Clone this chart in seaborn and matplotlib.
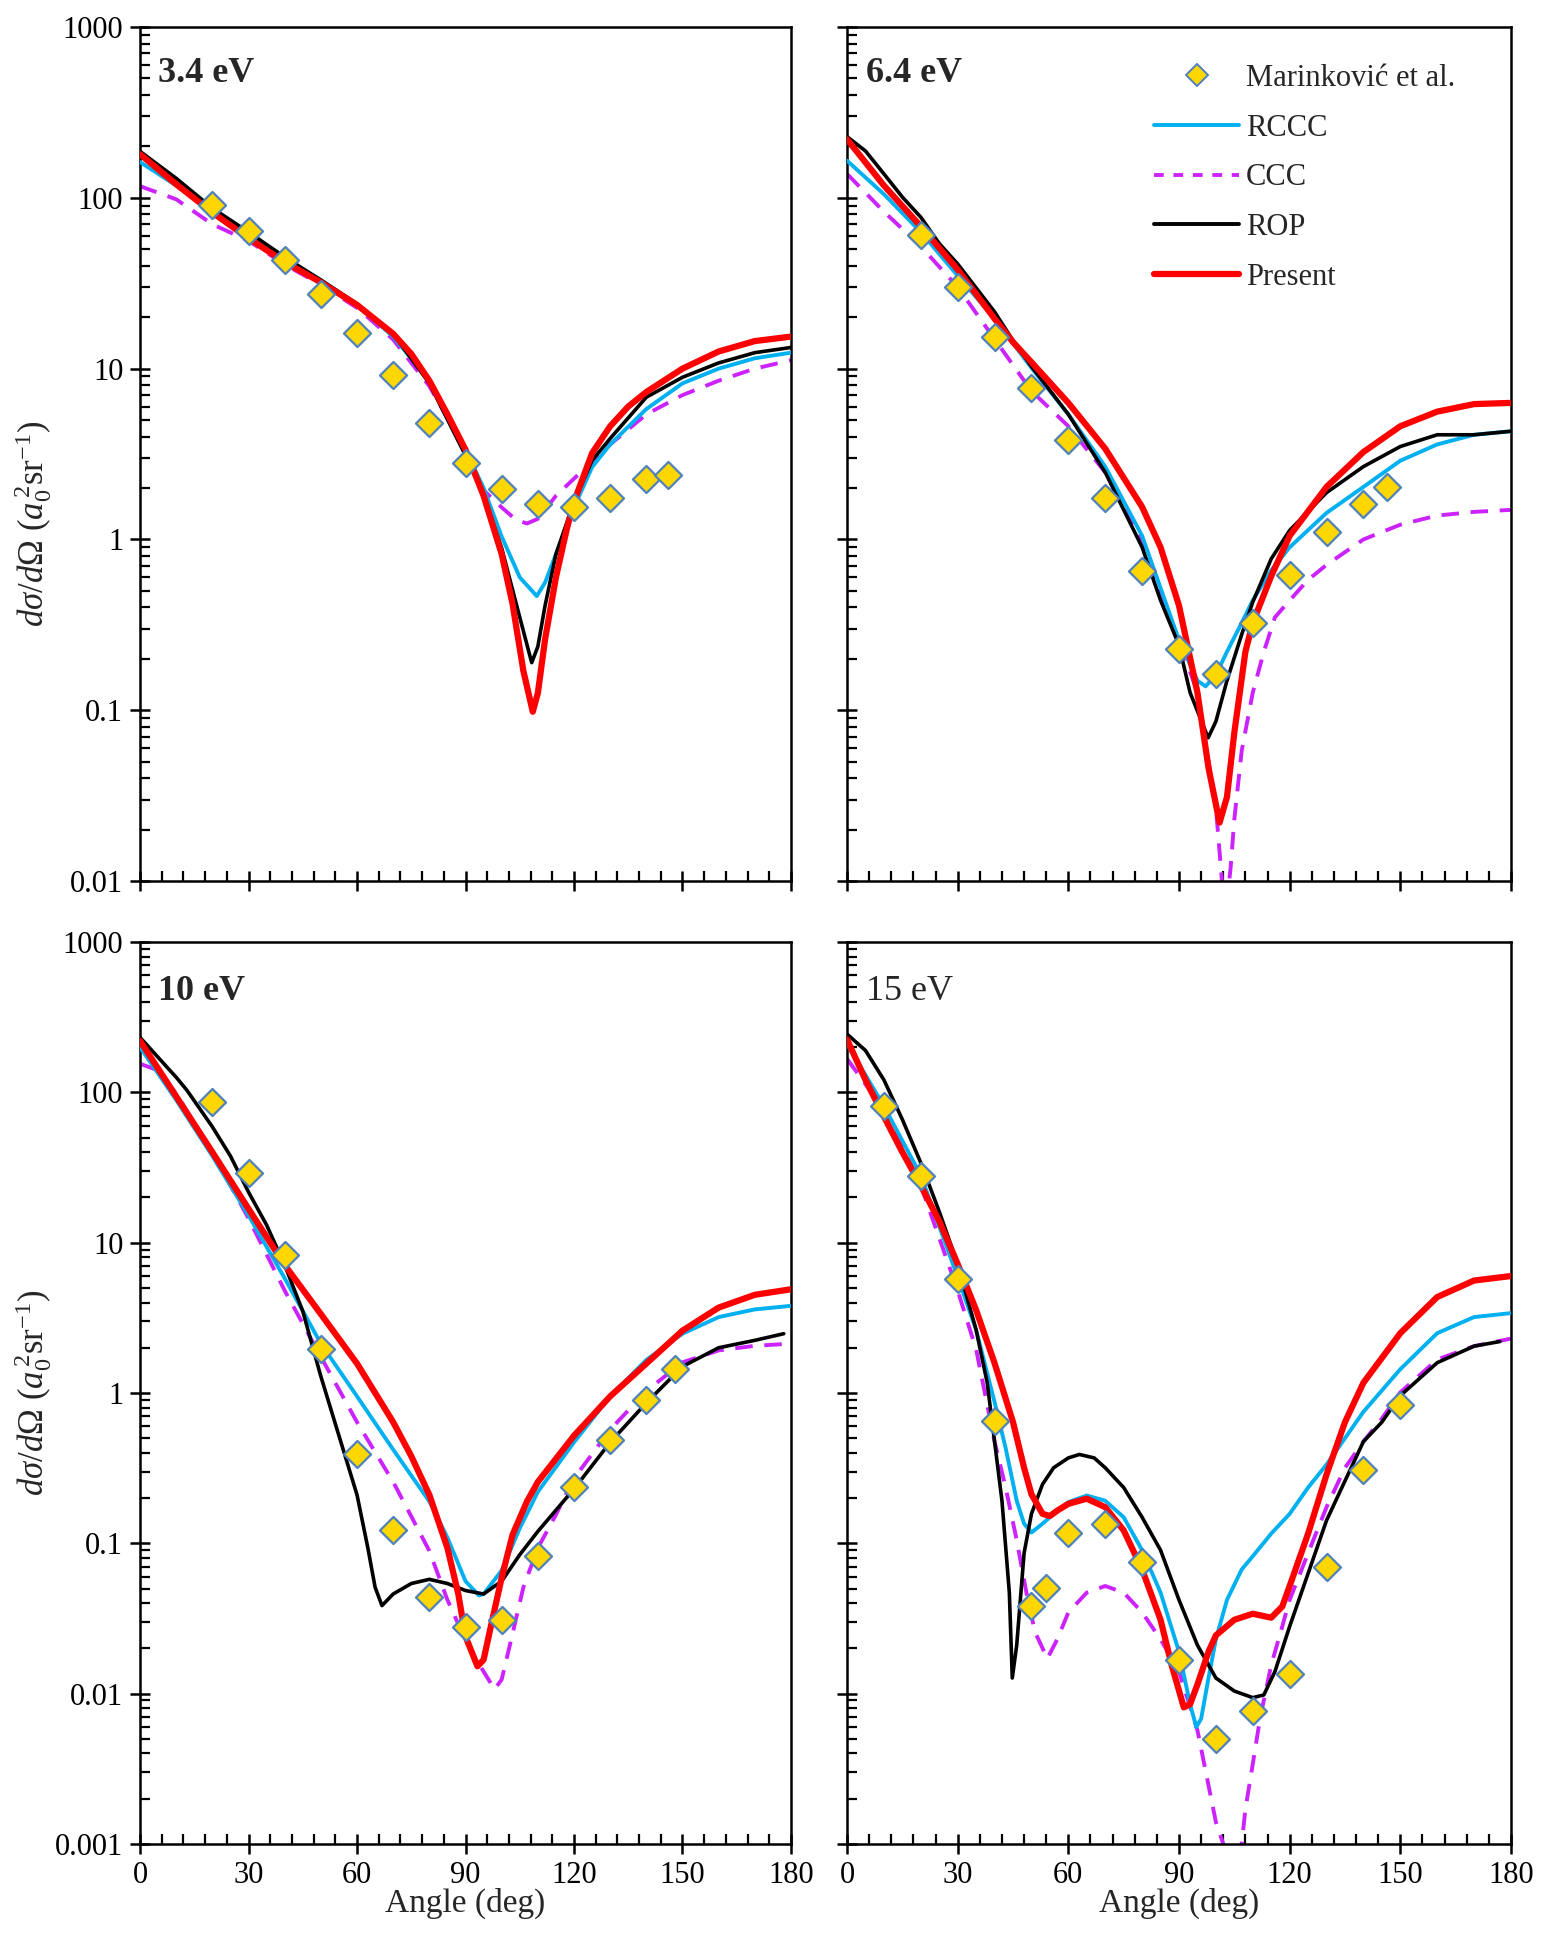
import matplotlib
matplotlib.use("Agg")
import matplotlib.pyplot as plt
import seaborn as sns
from matplotlib.lines import Line2D
from matplotlib.ticker import LogLocator, MultipleLocator, FixedLocator, FixedFormatter

# ---------------- data: 3.4 eV ----------------
ang_34_present = [0, 10, 20, 30, 40, 50, 60, 70, 75, 80, 85, 90, 95, 100, 103, 106, 108.6, 110, 112, 115,
                  118, 120, 125, 130, 135, 140, 150, 160, 170, 180]
dcs_34_present = [180, 120, 82, 58, 42, 32, 23.6, 16, 12.2, 8.5, 5.4, 3.35, 1.8, 0.82, 0.42, 0.17, 0.098, 0.126,
                  0.26, 0.6, 1.15, 1.66, 3.2, 4.6, 6.0, 7.3, 10, 12.6, 14.5, 15.4]
ang_34_rop = [0, 10, 20, 30, 40, 50, 60, 70, 80, 90, 95, 100, 105, 108.3, 110, 112, 115, 120, 125, 130,
              140, 150, 160, 170, 180]
dcs_34_rop = [187, 130, 87, 63, 45, 33, 24, 16, 8.2, 3.1, 1.8, 0.89, 0.35, 0.19, 0.236, 0.41, 0.82, 1.66,
              2.9, 3.9, 6.8, 8.9, 10.8, 12.4, 13.3]
ang_34_rccc = [0, 10, 20, 30, 40, 50, 60, 70, 80, 90, 95, 100, 105, 109.7, 112, 115, 120, 125, 130, 140,
               150, 160, 170, 180]
dcs_34_rccc = [162, 118, 85, 60, 44, 33, 23.6, 15.4, 8.5, 3.35, 2.0, 1.04, 0.6, 0.466, 0.56, 0.82, 1.54,
               2.65, 3.6, 5.8, 8.2, 10, 11.5, 12.4]
ang_34_ccc = [0, 10, 20, 30, 40, 50, 60, 70, 80, 90, 95, 100, 104, 107, 110, 115, 120, 130, 140, 150,
              160, 170, 180]
dcs_34_ccc = [117, 98, 70, 56, 40.7, 31, 22.7, 14.8, 7.9, 3.35, 1.94, 1.54, 1.3, 1.24, 1.32, 1.8, 2.27,
              3.6, 5.4, 7.0, 8.5, 10, 11.2]
ang_34_exp = [20, 30, 40, 50, 60, 70, 80, 90, 100, 110, 120, 130, 140, 146]
dcs_34_exp = [91, 63.6, 43.4, 27.2, 16.2, 9.18, 4.8, 2.82, 1.97, 1.62, 1.54, 1.75, 2.25, 2.38]

# ---------------- data: 6.4 eV ----------------
ang_64_present = [0, 10, 20, 30, 40, 45, 50, 60, 70, 80, 85, 90, 95, 98, 101, 103, 105, 108, 110, 115, 120,
                  130, 140, 150, 160, 170, 180]
dcs_64_present = [220, 118, 68, 38, 19.6, 14.3, 10.9, 6.3, 3.4, 1.55, 0.9, 0.41, 0.127, 0.046, 0.022, 0.031,
                  0.074, 0.22, 0.325, 0.61, 1.05, 2.03, 3.25, 4.6, 5.6, 6.2, 6.3]
ang_64_rop = [0, 5, 10, 15, 20, 25, 30, 40, 45, 50, 60, 70, 80, 85, 90, 93, 97.9, 100, 103, 107, 110, 115,
              120, 130, 140, 150, 160, 170, 180]
dcs_64_rop = [228, 188, 138, 101, 77, 54, 41, 21.5, 14.6, 10.3, 5.4, 2.47, 0.9, 0.44, 0.24, 0.127, 0.069,
              0.086, 0.149, 0.278, 0.43, 0.77, 1.13, 1.88, 2.67, 3.5, 4.1, 4.1, 4.3]
ang_64_rccc = [0, 10, 20, 30, 40, 50, 60, 70, 80, 85, 90, 95, 97.2, 100, 103, 107, 110, 115, 120, 130, 140,
               150, 160, 170, 180]
dcs_64_rccc = [165, 105, 63, 35, 19.6, 10.1, 5.4, 2.67, 1.05, 0.52, 0.257, 0.149, 0.138, 0.161, 0.22, 0.325,
               0.44, 0.66, 0.9, 1.43, 2.03, 2.89, 3.6, 4.1, 4.3]
ang_64_ccc = [0, 10, 20, 30, 40, 50, 60, 70, 80, 85, 90, 95, 100, 102.5, 104, 105, 107, 110, 113, 116, 120,
              125, 130, 140, 150, 160, 170, 180]
dcs_64_ccc = [138, 83, 52, 30, 14.9, 7.4, 4.6, 2.47, 0.97, 0.48, 0.257, 0.127, 0.027, 0.006, 0.012, 0.023,
              0.058, 0.127, 0.22, 0.35, 0.44, 0.58, 0.71, 1.0, 1.22, 1.38, 1.45, 1.49]
ang_64_exp = [20, 30, 40, 50, 60, 70, 80, 90, 100, 110, 120, 130, 140, 146.5]
dcs_64_exp = [60.7, 30, 15.3, 7.7, 3.8, 1.74, 0.656, 0.229, 0.164, 0.325, 0.62, 1.1, 1.61, 2.03]

# ---------------- data: 10 eV ----------------
ang_10_present = [0, 10, 20, 30, 40, 50, 60, 70, 75, 80, 85, 88, 90, 93.3, 95, 97, 100, 103, 107, 110, 120,
                  130, 140, 150, 160, 170, 180]
dcs_10_present = [220, 94, 40, 16.8, 7.1, 3.35, 1.57, 0.64, 0.38, 0.21, 0.093, 0.046, 0.024, 0.0152, 0.0168,
                  0.028, 0.059, 0.114, 0.19, 0.256, 0.52, 0.95, 1.57, 2.6, 3.7, 4.5, 4.9]
ang_10_rop = [0, 5, 10, 13, 20, 25, 30, 35, 40, 45, 48, 50, 55, 60, 63, 65, 66.9, 70, 75, 80, 85, 90, 95,
              100, 105, 110, 120, 130, 140, 150, 160, 170, 178]
dcs_10_rop = [232, 171, 126, 103, 59, 37.7, 21.7, 13.1, 7.1, 3.5, 1.92, 1.29, 0.52, 0.21, 0.093, 0.051,
              0.0385, 0.046, 0.054, 0.0576, 0.054, 0.0485, 0.046, 0.056, 0.084, 0.12, 0.23, 0.47, 0.86, 1.5,
              2.0, 2.24, 2.48]
ang_10_rccc = [0, 10, 20, 30, 40, 50, 60, 70, 80, 85, 90, 93.7, 95, 100, 105, 110, 120, 130, 140, 150, 160,
               170, 180]
dcs_10_rccc = [200, 89, 37.7, 15.2, 5.8, 2.13, 0.95, 0.42, 0.19, 0.109, 0.056, 0.045, 0.046, 0.066, 0.126,
               0.22, 0.47, 0.95, 1.66, 2.48, 3.2, 3.6, 3.8]
ang_10_ccc = [0, 5, 10, 20, 30, 40, 50, 60, 70, 80, 85, 90, 93, 98, 100, 103, 106, 110, 115, 120, 130, 140,
              150, 160, 170, 180]
dcs_10_ccc = [155, 140, 98, 40, 14.5, 4.8, 1.74, 0.64, 0.256, 0.089, 0.042, 0.0227, 0.0168, 0.0107, 0.0124,
              0.025, 0.051, 0.093, 0.155, 0.27, 0.57, 1.03, 1.6, 1.92, 2.06, 2.13]
ang_10_exp = [20, 30, 40, 50, 60, 70, 80, 90, 100, 110, 120, 130, 140, 148]
dcs_10_exp = [86, 29.3, 8.3, 1.96, 0.39, 0.123, 0.044, 0.0279, 0.031, 0.082, 0.236, 0.49, 0.9, 1.45]

# ---------------- data: 15 eV ----------------
ang_15_present = [0, 5, 10, 15, 20, 25, 30, 35, 40, 45, 48, 50, 53, 55, 57, 60, 65, 70, 75, 80, 85, 88, 91.3,
                  93, 95, 98, 100, 105, 110, 115, 118, 120, 125, 130, 135, 140, 150, 160, 170, 180]
dcs_15_present = [225, 121, 69, 40, 24, 13.9, 7.2, 3.56, 1.58, 0.64, 0.318, 0.212, 0.157, 0.152, 0.165, 0.183,
                  0.198, 0.174, 0.122, 0.067, 0.031, 0.0155, 0.0081, 0.0085, 0.0115, 0.019, 0.0244, 0.031,
                  0.034, 0.032, 0.038, 0.052, 0.116, 0.287, 0.64, 1.17, 2.5, 4.35, 5.6, 6.0]
ang_15_rop = [0, 5, 10, 15, 20, 25, 30, 35, 38, 40, 42, 44, 44.8, 46, 48, 50, 53, 56, 60, 63, 67, 70, 75,
              80, 85, 90, 95, 100, 105, 110, 113, 116, 120, 125, 130, 135, 140, 145, 150, 160, 170, 177]
dcs_15_rop = [244, 190, 121, 66, 34, 16.1, 7.2, 2.63, 1.17, 0.475, 0.192, 0.047, 0.0127, 0.021, 0.086, 0.157,
              0.247, 0.318, 0.37, 0.39, 0.37, 0.318, 0.235, 0.149, 0.09, 0.042, 0.021, 0.0127, 0.0104,
              0.0094, 0.0098, 0.014, 0.028, 0.063, 0.142, 0.26, 0.475, 0.64, 0.96, 1.59, 2.05, 2.2]
ang_15_rccc = [0, 10, 20, 30, 35, 40, 43, 46, 48, 50, 53, 57, 60, 65, 70, 75, 80, 85, 90, 93, 94.7, 96, 98,
               100, 103, 107, 110, 115, 120, 125, 130, 140, 150, 160, 170, 180]
dcs_15_rccc = [210, 81, 28, 5.9, 2.63, 0.87, 0.43, 0.192, 0.135, 0.118, 0.135, 0.165, 0.188, 0.208, 0.192,
               0.149, 0.09, 0.047, 0.019, 0.0085, 0.006, 0.0068, 0.0127, 0.023, 0.042, 0.067, 0.082, 0.116,
               0.157, 0.235, 0.334, 0.75, 1.44, 2.5, 3.2, 3.4]
ang_15_ccc = [0, 10, 20, 30, 35, 40, 43, 46, 49, 51, 54.3, 57, 60, 65, 70, 75, 80, 85, 90, 95, 100, 102, 104,
              106, 107, 108, 110, 112, 115, 118, 120, 125, 130, 135, 140, 145, 150, 160, 170, 180]
dcs_15_ccc = [167, 77, 24, 4.8, 1.95, 0.475, 0.235, 0.105, 0.042, 0.0256, 0.0171, 0.023, 0.0347, 0.047, 0.052,
              0.047, 0.0347, 0.023, 0.014, 0.0057, 0.0014, 0.001, 0.0005, 0.0006, 0.001, 0.0017, 0.0034,
              0.0069, 0.0155, 0.028, 0.042, 0.086, 0.174, 0.318, 0.475, 0.676, 1.01, 1.67, 2.05, 2.3]
ang_15_exp = [10, 20, 30, 40, 50, 54, 60, 70, 80, 90, 100, 110, 120, 130, 140, 150]
dcs_15_exp = [80.7, 27.8, 5.7, 0.656, 0.0384, 0.0503, 0.118, 0.135, 0.075, 0.0168, 0.00497, 0.00766, 0.0136,
              0.070, 0.308, 0.826]

energy_labels = ["3.4 eV", "6.4 eV", "10 eV", "15 eV"]

C_RCCC = "#00B0F0"
C_CCC = "#CC22FF"
C_ROP = "black"
C_PRES = "#FF0000"
C_FILL = "#FFD700"
C_EDGE = "#4F81BD"

sns.set_style("white")
plt.rcParams["font.family"] = ["Liberation Serif", "DejaVu Serif"]
plt.rcParams["mathtext.fontset"] = "custom"
plt.rcParams["mathtext.rm"] = "Liberation Serif"
plt.rcParams["mathtext.it"] = "Liberation Serif:italic"

fig = plt.figure(figsize=(15.44, 19.42), dpi=100)

rects = [
    [0.0907, 0.5463, 0.4216, 0.4398],
    [0.5486, 0.5463, 0.4300, 0.4398],
    [0.0907, 0.0505, 0.4216, 0.4644],
    [0.5486, 0.0505, 0.4300, 0.4644],
]

panels = [
    (ang_34_present, dcs_34_present, ang_34_rop, dcs_34_rop, ang_34_rccc, dcs_34_rccc,
     ang_34_ccc, dcs_34_ccc, ang_34_exp, dcs_34_exp),
    (ang_64_present, dcs_64_present, ang_64_rop, dcs_64_rop, ang_64_rccc, dcs_64_rccc,
     ang_64_ccc, dcs_64_ccc, ang_64_exp, dcs_64_exp),
    (ang_10_present, dcs_10_present, ang_10_rop, dcs_10_rop, ang_10_rccc, dcs_10_rccc,
     ang_10_ccc, dcs_10_ccc, ang_10_exp, dcs_10_exp),
    (ang_15_present, dcs_15_present, ang_15_rop, dcs_15_rop, ang_15_rccc, dcs_15_rccc,
     ang_15_ccc, dcs_15_ccc, ang_15_exp, dcs_15_exp),
]

for i, (rect, p) in enumerate(zip(rects, panels)):
    ax = fig.add_axes(rect)
    a_pr, d_pr, a_rop, d_rop, a_rc, d_rc, a_cc, d_cc, a_ex, d_ex = p

    sns.lineplot(x=a_cc, y=d_cc, ax=ax, color=C_CCC, lw=2.8, linestyle=(0, (4.5, 3)),
                 estimator=None, sort=False, zorder=2)
    sns.lineplot(x=a_rc, y=d_rc, ax=ax, color=C_RCCC, lw=2.8, estimator=None, sort=False, zorder=3)
    sns.lineplot(x=a_rop, y=d_rop, ax=ax, color=C_ROP, lw=2.6, estimator=None, sort=False, zorder=4)
    sns.lineplot(x=a_pr, y=d_pr, ax=ax, color=C_PRES, lw=4.5, estimator=None, sort=False, zorder=5)
    sns.scatterplot(x=a_ex, y=d_ex, ax=ax, marker="D", s=190, color=C_FILL, edgecolor=C_EDGE,
                    linewidth=1.6, zorder=6)

    ax.set_yscale("log")
    ax.set_xlim(0, 180)
    if i < 2:
        ax.set_ylim(0.01, 1000)
        yt = [0.01, 0.1, 1, 10, 100, 1000]
        ytl = ["0.01", "0.1", "1", "10", "100", "1000"]
    else:
        ax.set_ylim(0.001, 1000)
        yt = [0.001, 0.01, 0.1, 1, 10, 100, 1000]
        ytl = ["0.001", "0.01", "0.1", "1", "10", "100", "1000"]
    ax.yaxis.set_major_locator(FixedLocator(yt))
    ax.yaxis.set_major_formatter(FixedFormatter(ytl))
    ax.yaxis.set_minor_locator(LogLocator(base=10, subs=range(2, 10), numticks=20))
    ax.xaxis.set_major_locator(MultipleLocator(30))
    ax.xaxis.set_minor_locator(MultipleLocator(6))

    ax.tick_params(axis="both", which="both", bottom=True, left=True, top=False, right=False)
    ax.tick_params(axis="both", which="major", direction="inout", length=14, width=1.8,
                   labelsize=22, pad=5, colors="black")
    ax.tick_params(axis="both", which="minor", direction="in", length=7, width=1.6, colors="black")
    for s in ax.spines.values():
        s.set_linewidth(1.8)
        s.set_color("black")

    if i % 2 == 1:
        ax.tick_params(axis="y", labelleft=False)
        ax.set_ylabel("")
    else:
        ax.set_ylabel(r"$d\sigma/d\Omega$ ($a_0^{\,2}$sr$^{-1}$)", fontsize=25, labelpad=4)
        if i == 0:
            ax.yaxis.set_label_coords(-0.132, 0.418)
        else:
            ax.yaxis.set_label_coords(-0.132, 0.5)
    if i < 2:
        ax.tick_params(axis="x", labelbottom=False)
        ax.set_xlabel("")
    else:
        ax.set_xlabel("Angle (deg)", fontsize=24, labelpad=-1)

    weight = "normal" if i == 3 else "bold"
    ax.text(0.028, 0.945, energy_labels[i], transform=ax.transAxes, fontsize=26,
            fontweight=weight, va="center", ha="left")

    if i == 1:
        handles = [
            Line2D([], [], ls="none", marker="D", markersize=11, markerfacecolor=C_FILL,
                   markeredgecolor=C_EDGE, markeredgewidth=1.4),
            Line2D([], [], color=C_RCCC, lw=2.8),
            Line2D([], [], color=C_CCC, lw=2.8, ls=(0, (2.5, 2.5))),
            Line2D([], [], color=C_ROP, lw=2.8),
            Line2D([], [], color=C_PRES, lw=4.5),
        ]
        labels = ["Marinković et al.", "RCCC", "CCC", "ROP", "Present"]
        ax.legend(handles, labels, loc="upper left", bbox_to_anchor=(0.43, 0.982), frameon=False,
                  fontsize=22, handlelength=2.8, handletextpad=0.2, labelspacing=0.68,
                  borderaxespad=0.3)

fig.savefig("out.png", dpi=100)
